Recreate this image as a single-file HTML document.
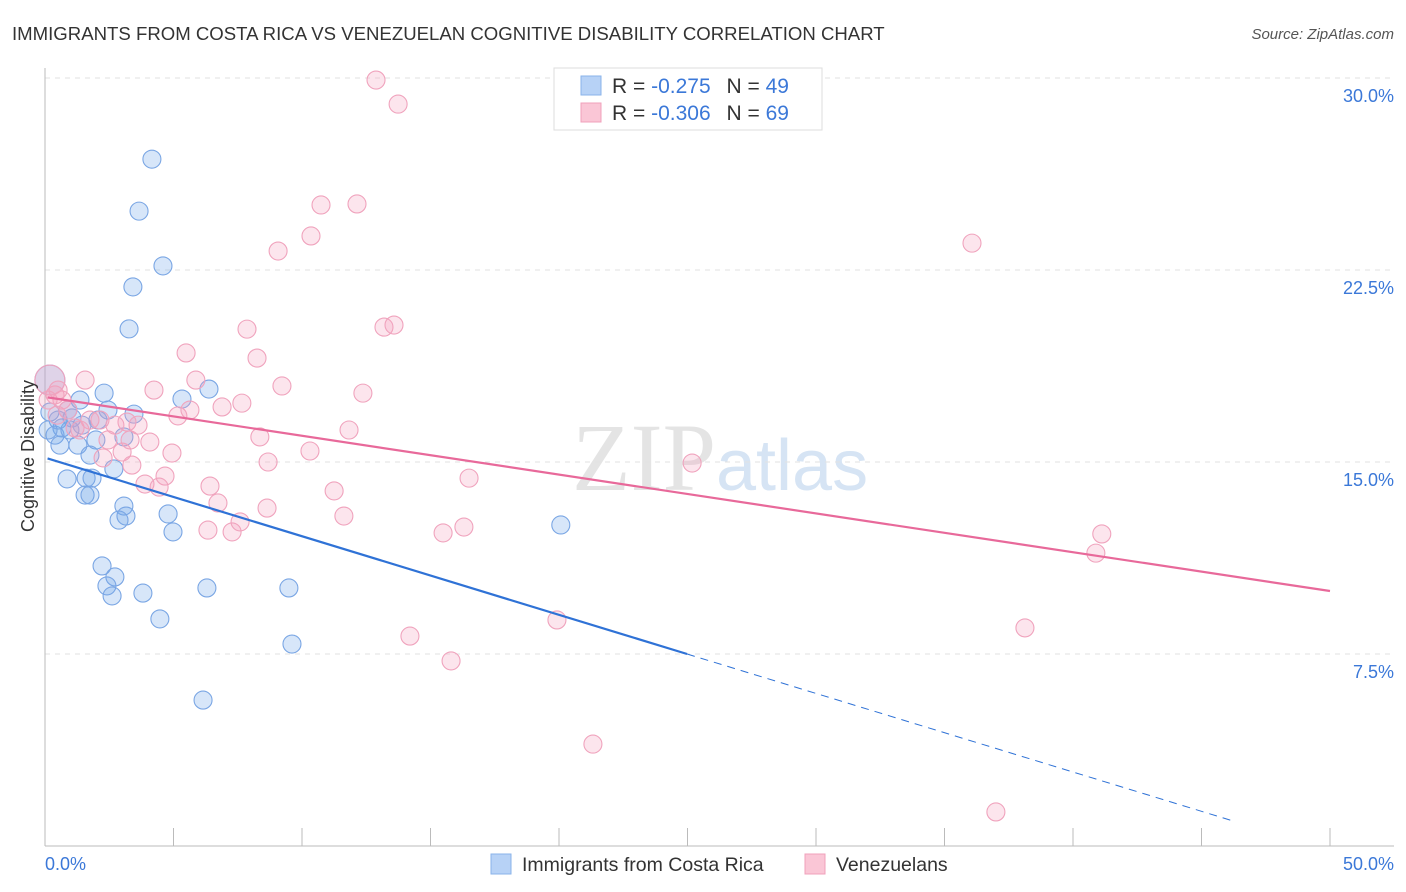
<!DOCTYPE html>
<html><head><meta charset="utf-8"><style>
body{margin:0;background:#fff;font-family:"Liberation Sans",sans-serif;}
svg{display:block}
</style></head><body>
<svg width="1406" height="892" id="c">
<text x="12" y="40" font-size="18.6" fill="#333">IMMIGRANTS FROM COSTA RICA VS VENEZUELAN COGNITIVE DISABILITY CORRELATION CHART</text>
<text x="1394" y="39" font-size="15" fill="#555" font-style="italic" text-anchor="end">Source: ZipAtlas.com</text>
<text x="716" y="490" font-size="96" fill="#e4e4e4" text-anchor="end" font-family="Liberation Serif">ZIP</text>
<text x="716" y="490" font-size="72" fill="#d6e4f4">atlas</text>
<g id="grid"></g><g id="marks"></g>
<text x="34" y="456" font-size="18" fill="#333" text-anchor="middle" transform="rotate(-90 34 456)">Cognitive Disability</text>
<g>
<rect x="554" y="68" width="268" height="62" fill="#fff" stroke="#ddd"/>
<rect x="581" y="76" width="20" height="19" fill="#b7d2f6" stroke="#8ab3ea"/>
<rect x="581" y="103" width="20" height="19" fill="#fac6d6" stroke="#f0a0bb"/>
<text x="612" y="93" font-size="21" fill="#333">R = <tspan fill="#3b78d8">-0.275</tspan>  <tspan dx="10">N = </tspan><tspan fill="#3b78d8">49</tspan></text>
<text x="612" y="120" font-size="21" fill="#333">R = <tspan fill="#3b78d8">-0.306</tspan>  <tspan dx="10">N = </tspan><tspan fill="#3b78d8">69</tspan></text>
</g>
<g>
<rect x="491" y="854" width="20" height="20" fill="#b7d2f6" stroke="#8ab3ea"/>
<text x="522" y="871" font-size="19.5" fill="#333">Immigrants from Costa Rica</text>
<rect x="805" y="854" width="20" height="20" fill="#fac6d6" stroke="#f0a0bb"/>
<text x="836" y="871" font-size="19.5" fill="#333">Venezuelans</text>
</g>
</svg>
<script>
const yTicks=[7.5,15,22.5,30];
const yTickLabels=["7.5%","15.0%","22.5%","30.0%"];
const xLabels=["0.0%","50.0%"];
const blueX=[4.16,3.66,4.59,3.42,3.27,6.38,5.33,2.30,1.36,2.45,3.46,0.19,0.89,1.05,0.66,2.06,3.07,0.39,0.58,1.28,1.98,1.75,2.68,0.86,1.60,1.83,1.56,1.75,3.07,3.15,2.88,4.79,4.98,2.22,2.72,2.41,2.61,3.81,6.30,9.49,4.47,9.61,6.15,20.07,0.19,0.12,0.51,0.97,1.44];
const blueY=[26.83,24.80,22.66,21.84,20.20,17.85,17.46,17.69,17.42,17.03,16.87,16.95,17.03,16.72,16.33,16.64,15.98,16.05,15.66,15.66,15.86,15.27,14.73,14.34,14.37,14.37,13.71,13.71,13.28,12.89,12.73,12.97,12.27,10.94,10.51,10.16,9.77,9.88,10.08,10.08,8.87,7.89,5.70,12.54,18.20,16.25,16.64,16.25,16.44];
const pinkX=[12.88,13.74,10.74,12.14,10.35,9.07,36.07,7.86,13.19,13.58,8.25,5.49,1.56,9.22,12.37,4.24,5.87,7.66,6.89,5.17,5.64,3.19,2.72,3.62,0.66,0.47,1.17,2.14,8.36,11.83,4.08,10.31,3.00,4.94,2.26,3.38,8.68,25.18,16.50,4.67,3.89,4.44,6.42,11.25,6.73,8.64,11.63,16.30,15.49,6.34,7.28,7.59,41.12,40.89,19.92,14.20,38.13,15.80,21.32,37.00,0.19,0.39,0.51,0.89,0.12,1.75,2.45,3.31,1.36];
const pinkY=[29.92,28.98,25.04,25.08,23.83,23.24,23.55,20.19,20.27,20.35,19.06,19.26,18.20,17.97,17.69,17.81,18.20,17.30,17.15,16.80,17.03,16.56,16.44,16.44,17.42,16.83,16.33,16.64,15.98,16.25,15.78,15.43,15.39,15.35,15.16,14.88,15.00,14.96,14.37,14.45,14.14,14.02,14.06,13.87,13.40,13.20,12.89,12.46,12.23,12.34,12.27,12.66,12.19,11.44,8.83,8.20,8.52,7.23,3.98,1.33,18.20,17.62,17.81,17.03,17.42,16.64,15.86,15.86,16.25];
const blueTrend=[15.17,-0.307];
const pinkTrend=[17.54,-0.1516];
const NS="http://www.w3.org/2000/svg";
const X=v=>45+v/50*1285, Y=v=>846-v/7.5*192;
function mk(t,a,p){const e=document.createElementNS(NS,t);for(const k in a)e.setAttribute(k,a[k]);p.appendChild(e);return e;}
const g=document.getElementById('grid'),m=document.getElementById('marks');
yTicks.forEach((t,i)=>{
 const l=mk('line',{x1:45,x2:1394,y1:Y(t),y2:Y(t),stroke:'#e2e2e2','stroke-dasharray':'5,5'},g);
 
 
 const tx=mk('text',{x:1394,y:Y(t)+24,'font-size':18,fill:'#3b78d8','text-anchor':'end'},g);
 tx.textContent=yTickLabels[i];
 
 
});
const ya=mk('line',{x1:45,x2:45,y1:68,y2:846,stroke:'#bbb'},g);


const xa=mk('line',{x1:45,x2:1394,y1:846,y2:846,stroke:'#bbb'},g);


for(let i=0;i<=10;i++){const tk=mk('line',{x1:X(i*5),x2:X(i*5),y1:828,y2:846,stroke:'#bbb'},g);
 
 }
[[0,'start',45],[50,'end',1394]].forEach((d,i)=>{const t=mk('text',{x:d[2],y:870,'font-size':18,fill:'#3b78d8','text-anchor':d[1]},g);t.textContent=xLabels[i];
 
 });
function dots(xs,ys,fill,stroke,name){xs.forEach((x,i)=>{const big=(x<0.3&&ys[i]>18);
 const c=mk('circle',{cx:X(x),cy:Y(ys[i]),r:big?15:9,fill:fill,stroke:stroke,'stroke-width':1.1},m);
 
 });}
dots(blueX,blueY,'rgba(110,165,235,0.28)','#7aa6e4','costa-rica-point');
dots(pinkX,pinkY,'rgba(245,160,190,0.28)','#f0a3bd','venezuelan-point');
const bxEnd=(7.5-blueTrend[0])/blueTrend[1];
const b1=mk('line',{x1:X(0.1),y1:Y(blueTrend[0]+blueTrend[1]*0.1),x2:X(bxEnd),y2:Y(7.5),stroke:'#2f72d6','stroke-width':2.2},m);


const bx1=46.3;
const b2=mk('line',{x1:X(bxEnd),y1:Y(7.5),x2:X(bx1),y2:Math.min(846,Y(blueTrend[0]+blueTrend[1]*bx1)),stroke:'#2f72d6','stroke-width':1,'stroke-dasharray':'8,6'},m);


const p1=mk('line',{x1:X(0.1),y1:Y(pinkTrend[0]+pinkTrend[1]*0.1),x2:X(50),y2:Y(pinkTrend[0]+pinkTrend[1]*50),stroke:'#e8699a','stroke-width':2.2},m);


</script>
</body></html>
